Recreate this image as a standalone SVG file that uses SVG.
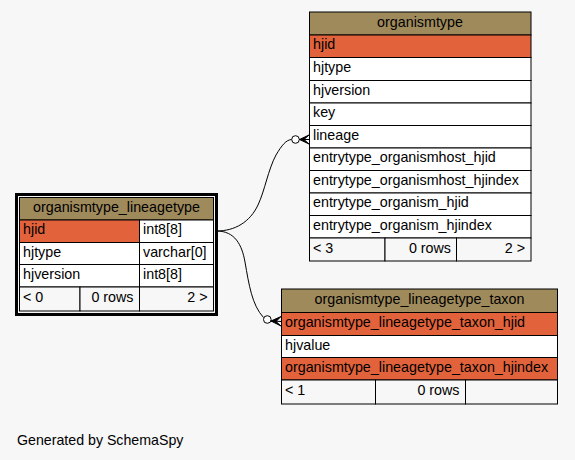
<svg xmlns="http://www.w3.org/2000/svg" width="575" height="460" viewBox="0 0 575 460">
<style>
text{font-family:"Liberation Sans",Arial,sans-serif;font-size:14.3px;fill:#000}
.hd{fill:#9f8a5c;stroke:#000;stroke-width:1}
.pk{fill:#e2633b;stroke:#000;stroke-width:1}
.rw{fill:#fff;stroke:#000;stroke-width:1}
.ft{fill:#f7f7f7;stroke:#000;stroke-width:1}
.c{text-anchor:middle}
.r{text-anchor:end}
.edge{fill:none;stroke:#000;stroke-width:1}
.od{fill:#fff;stroke:#000;stroke-width:1}
.crow{fill:#000;stroke:#000;stroke-width:1;stroke-linejoin:miter}
</style>
<rect x="0" y="0" width="575" height="460" fill="#f7f7f7"/>

<g id="connectors">
<path class="edge" d="M216.5,231 C235,231 250,222 258,205 C265,190 268,170 276,155 C282,145 286,140 291.5,139.5"/>
<circle class="od" cx="295.5" cy="139.5" r="3.8"/>
<polygon class="crow" points="309,135 299.5,139.5 309,144 304,139.5"/>
<line class="edge" x1="299.5" y1="139.5" x2="309" y2="139.5"/>
<path class="edge" d="M216.5,231 C235,231 242,245 245,262 C249,285 252,305 263.5,317.5"/>
<circle class="od" cx="267.3" cy="319.5" r="3.8"/>
<polygon class="crow" points="281,316.5 271,321 281,326 276,321.5"/>
<line class="edge" x1="271" y1="321" x2="281" y2="321.5"/>
</g>

<g id="organismtype">
<rect class="hd" x="309.5" y="12" width="221.5" height="23"/>
<text class="c" x="420" y="26.5">organismtype</text>
<rect class="pk" x="309.5" y="35" width="221.5" height="22.5"/>
<text x="313" y="49">hjid</text>
<rect class="rw" x="309.5" y="57.5" width="221.5" height="23"/>
<text x="313" y="72">hjtype</text>
<rect class="rw" x="309.5" y="80.5" width="221.5" height="22.5"/>
<text x="313" y="94.5">hjversion</text>
<rect class="rw" x="309.5" y="103" width="221.5" height="22.5"/>
<text x="313" y="117">key</text>
<rect class="rw" x="309.5" y="125.5" width="221.5" height="22.5"/>
<text x="313" y="139.5">lineage</text>
<rect class="rw" x="309.5" y="148" width="221.5" height="22.5"/>
<text x="313" y="162">entrytype_organismhost_hjid</text>
<rect class="rw" x="309.5" y="170.5" width="221.5" height="22.5"/>
<text x="313" y="184.5">entrytype_organismhost_hjindex</text>
<rect class="rw" x="309.5" y="193" width="221.5" height="22.5"/>
<text x="313" y="207">entrytype_organism_hjid</text>
<rect class="rw" x="309.5" y="215.5" width="221.5" height="22.5"/>
<text x="313" y="229.5">entrytype_organism_hjindex</text>
<rect class="ft" x="309.5" y="238" width="75.5" height="23"/>
<rect class="ft" x="385" y="238" width="71.5" height="23"/>
<rect class="ft" x="456.5" y="238" width="74.5" height="23"/>
<text x="313" y="252.5">&lt; 3</text>
<text class="r" x="451" y="252.5">0 rows</text>
<text class="r" x="525" y="252.5">2 &gt;</text>
</g>

<g id="organismtype_lineagetype">
<rect x="16.5" y="194.5" width="200" height="120" fill="none" stroke="#000" stroke-width="3"/>
<rect class="hd" x="19.5" y="197.5" width="194" height="22.5"/>
<text class="c" x="116.5" y="211.5">organismtype_lineagetype</text>
<rect class="pk" x="19.5" y="220" width="120" height="22.5"/>
<rect class="rw" x="139.5" y="220" width="74" height="22.5"/>
<text x="23" y="234">hjid</text>
<text x="143" y="234">int8[8]</text>
<rect class="rw" x="19.5" y="242.5" width="120" height="22"/>
<rect class="rw" x="139.5" y="242.5" width="74" height="22"/>
<text x="23" y="256.5">hjtype</text>
<text x="143" y="256.5">varchar[0]</text>
<rect class="rw" x="19.5" y="264.5" width="120" height="22.5"/>
<rect class="rw" x="139.5" y="264.5" width="74" height="22.5"/>
<text x="23" y="278.5">hjversion</text>
<text x="143" y="278.5">int8[8]</text>
<rect class="ft" x="19.5" y="287" width="60.5" height="24"/>
<rect class="ft" x="80" y="287" width="59.5" height="24"/>
<rect class="ft" x="139.5" y="287" width="74" height="24"/>
<text x="23" y="301.5">&lt; 0</text>
<text class="r" x="133.5" y="301.5">0 rows</text>
<text class="r" x="207.5" y="301.5">2 &gt;</text>
</g>

<g id="organismtype_lineagetype_taxon">
<rect class="hd" x="281.5" y="289" width="276" height="23.5"/>
<text class="c" x="419.5" y="304">organismtype_lineagetype_taxon</text>
<rect class="pk" x="281.5" y="312.5" width="276" height="23"/>
<text x="285" y="327">organismtype_lineagetype_taxon_hjid</text>
<rect class="rw" x="281.5" y="335.5" width="276" height="22"/>
<text x="285" y="349.5">hjvalue</text>
<rect class="pk" x="281.5" y="357.5" width="276" height="22.5"/>
<text x="285" y="372">organismtype_lineagetype_taxon_hjindex</text>
<rect class="ft" x="281.5" y="380" width="94" height="24"/>
<rect class="ft" x="375.5" y="380" width="90" height="24"/>
<rect class="ft" x="465.5" y="380" width="92" height="24"/>
<text x="285" y="394.5">&lt; 1</text>
<text class="r" x="459.5" y="394.5">0 rows</text>
</g>

<text x="17" y="444.5" style="font-size:14.2px">Generated by SchemaSpy</text>
</svg>
